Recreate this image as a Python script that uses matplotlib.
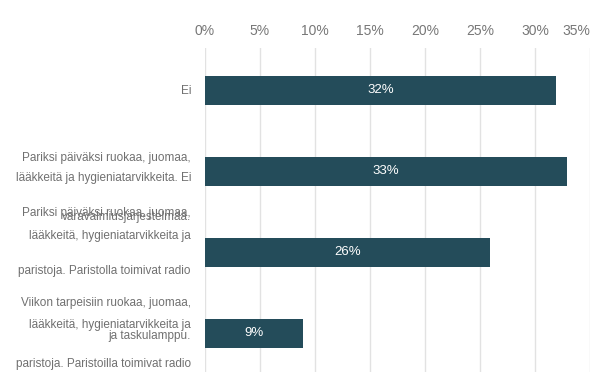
import matplotlib.pyplot as plt

plt.rcParams['font.family'] = ['Liberation Sans', 'DejaVu Sans']

categories = [
    "Ei",
    "Pariksi päiväksi ruokaa, juomaa, lääkkeitä ja hygieniatarvikkeita. Ei varavalmiusjärjestelmää.",
    "Pariksi päiväksi ruokaa, juomaa, lääkkeitä, hygieniatarvikkeita ja paristoja. Paristolla toimivat radio ja taskulamppu.",
    "Viikon tarpeisiin ruokaa, juomaa, lääkkeitä, hygieniatarvikkeita ja paristoja. Paristoilla toimivat radio ja taskulamppu.",
]
values = [31.9, 32.9, 25.9, 8.9]
value_labels = ["32%", "33%", "26%", "9%"]
ticks = [0, 5, 10, 15, 20, 25, 30, 35]
tick_labels = ["0%", "5%", "10%", "15%", "20%", "25%", "30%", "35%"]

# wrapped label lines as the source renders them (text, y in pixels from top)
label_lines = [
    ("Ei", 91),
    ("Pariksi päiväksi ruokaa, juomaa,", 158),
    ("lääkkeitä ja hygieniatarvikkeita. Ei", 178),
    ("Pariksi päiväksi ruokaa, juomaa,", 213),
    ("varavalmiusjärjestelmää.", 217),
    ("lääkkeitä, hygieniatarvikkeita ja", 236),
    ("paristoja. Paristolla toimivat radio", 271),
    ("Viikon tarpeisiin ruokaa, juomaa,", 303),
    ("lääkkeitä, hygieniatarvikkeita ja", 325),
    ("ja taskulamppu.", 336),
    ("paristoja. Paristoilla toimivat radio", 364),
]

W, H = 600, 388
fig = plt.figure(figsize=(6, 3.88), dpi=100)
ax = fig.add_axes([205 / W, (H - 372) / H, 385 / W, 324 / H])

bar_color = '#244c5a'
pos = list(range(len(categories)))
ax.barh(pos, values, height=0.36, color=bar_color, zorder=3)
for p, v, lab in zip(pos, values, value_labels):
    ax.text(v / 2, p, lab, color='white', ha='center', va='center',
            fontsize=9.5, zorder=4)

ax.set_xlim(0, 35)
ax.set_ylim(3.475, -0.52)
ax.set_xticks(ticks)
ax.set_xticklabels(tick_labels)
ax.xaxis.tick_top()
ax.tick_params(axis='x', length=0, pad=7.5, labelsize=10, labelcolor='#777777')
ax.get_xticklabels()[-1].set_horizontalalignment('right')
ax.set_yticks([])
for s in ax.spines.values():
    s.set_visible(False)
ax.grid(axis='x', color='#e2e2e2', linewidth=1, zorder=0)

for txt, y in label_lines:
    fig.text(191 / W, (H - y) / H, txt, ha='right', va='center',
             fontsize=8.5, color='#707070')

fig.savefig('out.png', dpi=100)
